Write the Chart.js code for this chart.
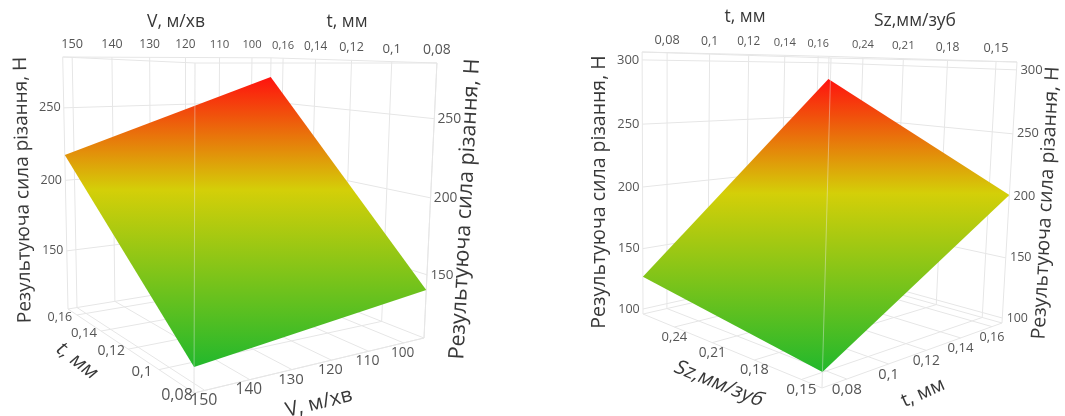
<!DOCTYPE html>
<html>
<head>
<meta charset="utf-8">
<script src="https://cdn.jsdelivr.net/npm/chart.js@4"></script>
<style>
  body { margin: 0; background: #fff; }
  canvas { position: absolute; top: 0; }
</style>
</head>
<body>
<canvas id="chartLeft" width="532" height="416" style="left:0"></canvas>
<canvas id="chartRight" width="533" height="416" style="left:532px"></canvas>
<script>
// Values
var speedTicks = [150, 140, 130, 120, 110, 100]
var depthTicks = [0.16, 0.14, 0.12, 0.1, 0.08]
var feedTicks = [0.24, 0.21, 0.18, 0.15]
var forceTicksLeft = [150, 200, 250]
var forceTicksRight = [100, 150, 200, 250, 300]

// Axis limits of each box
var speedLimits = [152.3, 93.9]
var depthLimitsLeft = [0.08, 0.168]
var depthLimitsRight = [0.069, 0.1668]
var feedLimits = [0.1379, 0.2674]
var forceLimitsLeft = [107.8, 284.3]
var forceLimitsRight = [95.8, 306.1]

// Force at the surface corners: [u low v low, u high v low, u high v high, u low v high]
var forceSurfaceLeft = [122.5, 139.9, 269.4, 217.6]
var forceSurfaceRight = [106.5, 201.2, 284.8, 126.9]

var gridColor = '#e6e6e6'
var surfaceStops = [[0, '#22b82c'], [0.61, '#d4cf08'], [1, '#ff120e']]

// Perspective of each box: floor front corner, ends of the three edges, weights
var viewLeft = { o: [194, 393], u: [424, 338], v: [68, 309], w: [195, 63], k: [1.2, 1.311, 0.94], text: 16 }
var viewRight = { o: [822, 388], u: [1002, 323], v: [643, 314], w: [831, 58], k: [1.2635, 1.2608, 0.9465], text: 15.7 }

function project(view, a, b, c) {
    var d = 1 + a * (view.k[0] - 1) + b * (view.k[1] - 1) + c * (view.k[2] - 1)
    var p = [0, 1].map(function (i) {
        return view.o[i]
            + a * (view.k[0] * view.u[i] - view.o[i])
            + b * (view.k[1] * view.v[i] - view.o[i])
            + c * (view.k[2] * view.w[i] - view.o[i])
    })
    return { x: p[0] / d, y: p[1] / d, d: d }
}

function ratio(value, limits) {
    return (value - limits[0]) / (limits[1] - limits[0])
}

function comma(value) {
    return String(value).replace('.', ',')
}

function lineSet(points, color, order) {
    return {
        data: points, showLine: true, borderColor: color, borderWidth: 1,
        pointRadius: 0, tension: 0, fill: false, order: order
    }
}

function buildPanel(cfg) {
    var view = cfg.view
    var sets = []
    var labels = []
    var us = cfg.uTicks.map(function (t) { return ratio(t, cfg.uLimits) })
    var vs = cfg.vTicks.map(function (t) { return ratio(t, cfg.vLimits) })
    var ws = cfg.zTicks.map(function (t) { return ratio(t, cfg.zLimits) })

    function grid(a0, b0, c0, a1, b1, c1) {
        sets.push(lineSet([project(view, a0, b0, c0), project(view, a1, b1, c1)], gridColor, 3))
    }
    function tickText(text, pos, dx, dy) {
        labels.push({ text: text, x: pos.x + dx, y: pos.y + dy, size: view.text / pos.d, color: '#555' })
    }

    // walls and floor
    us.forEach(function (u, i) {
        grid(u, 1, 0, u, 1, 1)
        grid(u, 0, 0, u, 1, 0)
        tickText(cfg.uFormat(cfg.uTicks[i]), project(view, u, 1, 1), 0, -12.5)
        tickText(cfg.uFormat(cfg.uTicks[i]), project(view, u, 0, 0), cfg.uFloor[0], cfg.uFloor[1])
    })
    vs.forEach(function (v, i) {
        grid(1, v, 0, 1, v, 1)
        grid(0, v, 0, 1, v, 0)
        tickText(cfg.vFormat(cfg.vTicks[i]), project(view, 1, v, 1), 0, -12.5)
        tickText(cfg.vFormat(cfg.vTicks[i]), project(view, 0, v, 0), cfg.vFloor[0], cfg.vFloor[1])
    })
    ws.forEach(function (w, i) {
        grid(0, 1, w, 1, 1, w)
        grid(1, 0, w, 1, 1, w)
        tickText(String(cfg.zTicks[i]), project(view, 0, 1, w), -14, 0)
        tickText(String(cfg.zTicks[i]), project(view, 1, 0, w), 15, 0)
    })

    // box outline
    grid(0, 0, 0, 1, 0, 0); grid(0, 0, 0, 0, 1, 0); grid(1, 0, 0, 1, 1, 0); grid(0, 1, 0, 1, 1, 0)
    grid(0, 0, 1, 1, 0, 1); grid(0, 0, 1, 0, 1, 1); grid(1, 0, 1, 1, 1, 1); grid(0, 1, 1, 1, 1, 1)
    grid(0, 0, 0, 0, 0, 1); grid(1, 0, 0, 1, 0, 1); grid(0, 1, 0, 0, 1, 1); grid(1, 1, 0, 1, 1, 1)

    // surface
    var corners = [[0, 0], [1, 0], [1, 1], [0, 1], [0, 0]]
    var outline = corners.map(function (c, i) {
        return project(view, c[0], c[1], ratio(cfg.surface[i % 4], cfg.zLimits))
    })
    var ys = outline.map(function (p) { return p.y })
    var surfaceSet = lineSet(outline, 'transparent', 2)
    surfaceSet.fill = 'shape'
    surfaceSet.borderWidth = 0
    surfaceSet.yTop = Math.min.apply(null, ys)
    surfaceSet.yBottom = Math.max.apply(null, ys)
    sets.push(surfaceSet)

    // front edge shows through the surface
    sets.push(lineSet([project(view, 0, 0, 0), project(view, 0, 0, 1)], 'rgba(235,235,235,0.42)', 1))

    cfg.titles.forEach(function (t) {
        labels.push({ text: t[0], x: t[1], y: t[2], rot: t[3], size: t[4], skew: t[5] || 0, color: '#383838' })
    })
    return { sets: sets, labels: labels, surface: surfaceSet }
}

function drawPanel(canvasId, cfg, xMin, xMax) {
    var panel = buildPanel(cfg)
    var ctx = document.getElementById(canvasId).getContext('2d')

    var g = ctx.createLinearGradient(0, panel.surface.yBottom, 0, panel.surface.yTop)
    surfaceStops.forEach(function (s) { g.addColorStop(s[0], s[1]) })
    panel.surface.backgroundColor = g

    var textPlugin = {
        id: 'boxText',
        afterDatasetsDraw: function (chart) {
            var c = chart.ctx
            c.save()
            c.textAlign = 'center'
            c.textBaseline = 'middle'
            panel.labels.forEach(function (l) {
                c.save()
                c.translate(chart.scales.x.getPixelForValue(l.x), chart.scales.y.getPixelForValue(l.y))
                c.rotate((l.rot || 0) * Math.PI / 180)
                if (l.skew) c.transform(1, 0, l.skew, 1, 0, 0)
                c.font = l.size.toFixed(1) + 'px "Open Sans"'
                c.fillStyle = l.color
                c.fillText(l.text, 0, 0)
                c.restore()
            })
            c.restore()
        }
    }

    return new Chart(ctx, {
        type: 'scatter',
        data: { datasets: panel.sets },
        options: {
            responsive: false,
            animation: false,
            events: [],
            layout: { padding: 0 },
            plugins: { legend: { display: false }, tooltip: { enabled: false } },
            scales: {
                x: { type: 'linear', display: false, min: xMin, max: xMax },
                y: { type: 'linear', display: false, min: 0, max: 416, reverse: true }
            }
        },
        plugins: [textPlugin]
    })
}

var forceTitle = 'Результуюча сила різання, Н'

drawPanel('chartLeft', {
    view: viewLeft,
    uLimits: speedLimits, vLimits: depthLimitsLeft, zLimits: forceLimitsLeft,
    uTicks: speedTicks, vTicks: depthTicks, zTicks: forceTicksLeft,
    uFormat: String, vFormat: comma,
    uFloor: [-1, 10], vFloor: [-17, 2],
    surface: forceSurfaceLeft,
    titles: [
        ['V, м/хв', 176, 22, 0, 17.5],
        ['t, мм', 347, 22, 0, 17.5],
        [forceTitle, 23, 190, -91, 19],
        [forceTitle, 465, 209, -87, 21.5],
        ['t, мм', 77, 361, 38, 20, -0.2],
        ['V, м/хв', 319, 403, -14, 20.5]
    ]
}, 0, 532)

drawPanel('chartRight', {
    view: viewRight,
    uLimits: depthLimitsRight, vLimits: feedLimits, zLimits: forceLimitsRight,
    uTicks: depthTicks.slice().reverse(), vTicks: feedTicks, zTicks: forceTicksRight,
    uFormat: comma, vFormat: comma,
    uFloor: [0, 10.5], vFloor: [0, 10],
    surface: forceSurfaceRight,
    titles: [
        ['t, мм', 745, 17, 0, 17.5],
        ['Sz,мм/зуб', 915, 21, 0, 17.5],
        [forceTitle, 599, 192, -90, 19.5],
        [forceTitle, 1046, 203, -87, 19.5],
        ['Sz,мм/зуб', 719, 384, 22, 20, -0.2],
        ['t, мм', 923, 393, -24, 19.5]
    ]
}, 532, 1065)
</script>
</body>
</html>
